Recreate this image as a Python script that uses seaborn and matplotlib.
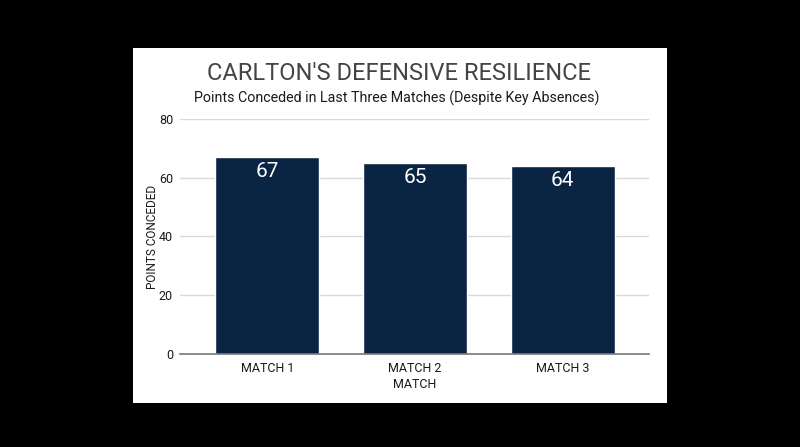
import matplotlib
matplotlib.use("Agg")
import matplotlib.pyplot as plt
import seaborn as sns
import pandas as pd
from matplotlib.patches import Rectangle

categories = ["MATCH 1", "MATCH 2", "MATCH 3"]
points = [67, 65, 64]
yticks = [0, 20, 40, 60, 80]

title = "CARLTON'S DEFENSIVE RESILIENCE"
subtitle = "Points Conceded in Last Three Matches (Despite Key Absences)"
xlabel = "MATCH"
ylabel = "POINTS CONCEDED"

sns.set_theme(style="white")
plt.rcParams['font.family'] = ['Roboto', 'DejaVu Sans']

df = pd.DataFrame({"match": categories, "points": points})

fig = plt.figure(figsize=(8, 4.47), dpi=100, facecolor="black")
fig.patches.append(Rectangle((133/800, 1-403/447), (667-133)/800, (403-48)/447,
                             transform=fig.transFigure, facecolor="white",
                             edgecolor="none", zorder=-10))
ax = fig.add_axes([180/800, 1-354/447, (649-180)/800, (354-119)/447])
ax.set_zorder(2)
ax.set_facecolor("none")

bar_color = "#0a2444"
sns.barplot(data=df, x="match", y="points", color=bar_color, width=0.705,
            saturation=1, ax=ax, zorder=3)

ax.set_xlim(-0.593, 2.586)
ax.set_ylim(0, 80)
ax.set_yticks(yticks)
ax.yaxis.grid(True, color="#d9d9d9", linewidth=1, zorder=0)
ax.set_axisbelow(True)
ax.xaxis.grid(False)
for s in ["top", "right", "left"]:
    ax.spines[s].set_visible(False)
ax.spines["bottom"].set_color("#777777")
ax.spines["bottom"].set_linewidth(1.2)
ax.spines["bottom"].set_zorder(4)
ax.tick_params(axis="both", length=0, labelsize=9, colors="#1a1a1a")
ax.tick_params(axis="y", pad=5)
ax.tick_params(axis="x", pad=6)
ax.set_xlabel(xlabel, fontsize=9, color="#1a1a1a", labelpad=2)
ax.set_ylabel(ylabel, fontsize=8.5, color="#1a1a1a", labelpad=0)

for i, v in enumerate(points):
    ax.annotate(str(v), xy=(i, v), xytext=(0, -10.5), textcoords="offset points",
                ha="center", va="center", color="white", fontsize=15, zorder=5)

fig.text(399/800, 1-73/447, title, ha="center", va="center", fontsize=17,
         color="#444444")
fig.text(397/800, 1-98/447, subtitle, ha="center", va="center", fontsize=10.3,
         color="#1a1a1a")

fig.savefig("out.png", dpi=100, facecolor=fig.get_facecolor())
